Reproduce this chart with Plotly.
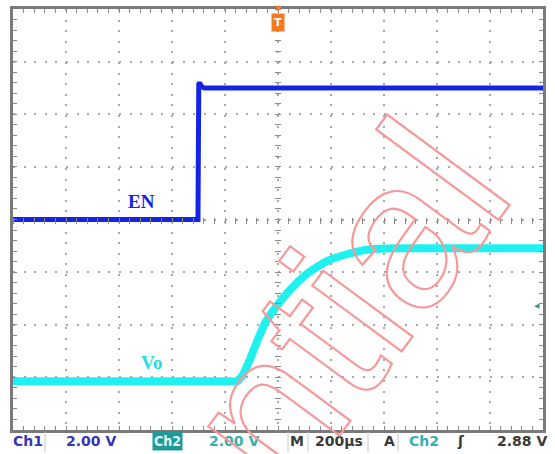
import plotly.graph_objects as go

# ---- scope settings ----
time_range_us = [-1000, 1000]
time_per_div_us = 200
ch1_volts_per_div = 2.0
ch2_volts_per_div = 2.0
ch1_range_v = [-8.0, 8.0]
ch2_range_v = [-1.85, 14.15]
trigger_level_v = 2.88
trigger_time_us = 0

# ---- Ch1 : EN ----
en_t_us = [-1000, -302, -299, -296, -288, -278, 1000]
en_v = [0.0, 0.0, 5.15, 5.2, 5.05, 5.0, 5.0]

# ---- Ch2 : Vo ----
vo_t_us = [-1000, -600, -300, -175, -155, -132, -106, -75, -42, -4, 45, 109, 185, 260, 347, 460, 600, 800, 1000]
vo_v = [0.0, 0.0, 0.0, 0.0, 0.0, 0.26, 0.83, 1.62, 2.34, 2.87, 3.47, 4.08, 4.57, 4.83, 5.02, 5.06, 5.06, 5.06, 5.06]

# ---- status bar ----
status_labels = ["Ch1", f"{ch1_volts_per_div:.2f} V", "Ch2", f"{ch2_volts_per_div:.2f} V",
                 "M", f"{time_per_div_us}µs", "A", "Ch2", "ʃ", f"{trigger_level_v:.2f} V"]
status_colors = ["#3535b5", "#3535b5", "#e6f6f6", "#33b0b0",
                 "#3a3a3a", "#3a3a3a", "#3a3a3a", "#33b0b0", "#3a3a3a", "#3a3a3a"]
status_xpos = [0.0283, 0.147, 0.2906, 0.417, 0.536, 0.615, 0.711, 0.775, 0.845, 0.960]

EN_BLUE = "#1424e6"
VO_CYAN = "#1ff0f0"
GRID = "#a8a8a8"
TICK = "#8a8a8a"
BORDER = "#7a7a7a"

fig = go.Figure()
fig.add_trace(go.Scatter(x=en_t_us, y=en_v, mode="lines",
                         line=dict(color=EN_BLUE, width=5),
                         xaxis="x", yaxis="y", hoverinfo="skip", showlegend=False))
fig.add_trace(go.Scatter(x=vo_t_us, y=vo_v, mode="lines",
                         line=dict(color=VO_CYAN, width=8, shape="spline", smoothing=0.6),
                         xaxis="x", yaxis="y3", hoverinfo="skip", showlegend=False))
# carriers for the centre graticule tick axes
fig.add_trace(go.Scatter(x=[None], y=[None], xaxis="x2", yaxis="y", hoverinfo="skip", showlegend=False))
fig.add_trace(go.Scatter(x=[None], y=[None], xaxis="x", yaxis="y2", hoverinfo="skip", showlegend=False))

plot_w = 530.0
plot_h = 424.0

common = dict(showticklabels=False, zeroline=False, fixedrange=True)

fig.update_layout(
    width=555, height=454,
    margin=dict(l=13, r=12, t=6, b=24),
    paper_bgcolor="white", plot_bgcolor="white",
    showlegend=False,
    xaxis=dict(range=time_range_us, dtick=time_per_div_us, tick0=0,
               showgrid=True, gridcolor=GRID, gridwidth=1.5, griddash="2px,8.6px",
               ticks="inside", ticklen=4, tickcolor=TICK, tickwidth=1,
               showline=True, linecolor=BORDER, linewidth=3, mirror="ticks",
               minor=dict(dtick=time_per_div_us / 5, ticks="inside", ticklen=4,
                          tickcolor=TICK, tickwidth=1, showgrid=False),
               **common),
    yaxis=dict(range=ch1_range_v, dtick=ch1_volts_per_div, tick0=0,
               showgrid=True, gridcolor=GRID, gridwidth=1.5, griddash="2px,8.6px",
               ticks="inside", ticklen=4, tickcolor=TICK, tickwidth=1,
               showline=True, linecolor=BORDER, linewidth=3, mirror="ticks",
               minor=dict(dtick=ch1_volts_per_div / 5, ticks="inside", ticklen=4,
                          tickcolor=TICK, tickwidth=1, showgrid=False),
               **common),
    xaxis2=dict(range=time_range_us, overlaying="x", anchor="free",
                position=0.5 + 3 / plot_h, side="bottom",
                dtick=time_per_div_us / 5, tick0=0, ticks="outside", ticklen=6,
                tickcolor=TICK, tickwidth=1, showgrid=False, showline=False, **common),
    yaxis2=dict(range=ch1_range_v, overlaying="y", anchor="free",
                position=0.5 + 3 / plot_w, side="left",
                dtick=ch1_volts_per_div / 5, tick0=0, ticks="outside", ticklen=6,
                tickcolor=TICK, tickwidth=1, showgrid=False, showline=False, **common),
    yaxis3=dict(range=ch2_range_v, overlaying="y", anchor="x",
                showgrid=False, showline=False, ticks="", **common),
)

ann = []
# trace labels
ann.append(dict(x=-517, y=0.68, xref="x", yref="y", text="<b>EN</b>", showarrow=False,
                font=dict(family="Liberation Serif", size=19, color=EN_BLUE),
                xanchor="center", yanchor="middle"))
ann.append(dict(x=-476, y=0.72, xref="x", yref="y3", text="<b>Vo</b>", showarrow=False,
                font=dict(family="Liberation Serif", size=19, color="#22e0e0"),
                xanchor="center", yanchor="middle"))
# trigger marker at top
ann.append(dict(x=trigger_time_us, y=1.002, xref="x", yref="paper", text="▼", showarrow=False,
                font=dict(family="DejaVu Sans", size=8, color="#f47a20"),
                xanchor="center", yanchor="middle"))
ann.append(dict(x=trigger_time_us, y=0.969, xref="x", yref="paper", text="<b>T</b>", showarrow=False,
                font=dict(family="DejaVu Sans", size=11, color="white"),
                bgcolor="#f47a20", borderpad=1, width=10, height=15,
                xanchor="center", yanchor="middle"))
# trigger level marker
ann.append(dict(x=0.988, y=trigger_level_v, xref="paper", yref="y3", text="◀", showarrow=False,
                font=dict(family="DejaVu Sans", size=7, color="#2a9a9a"),
                xanchor="center", yanchor="middle"))
# status bar
for i, (txt, col, xp) in enumerate(zip(status_labels, status_colors, status_xpos)):
    a = dict(x=xp, y=-0.027, xref="paper", yref="paper", text=f"<b>{txt}</b>", showarrow=False,
             font=dict(family="DejaVu Sans", size=14, color=col),
             xanchor="center", yanchor="middle")
    if i == 2:
        a.update(bgcolor="#1f9a9a", borderpad=1,
                 font=dict(family="DejaVu Sans Condensed, DejaVu Sans", size=14, color=col))
    ann.append(a)
# watermark
ann.append(dict(x=0.2226, y=-0.396, xref="paper", yref="paper", text="Confidential",
                showarrow=False, textangle=-53.6,
                font=dict(family="Liberation Sans", size=210, color="rgba(245,150,150,0.0)"),
                xanchor="center", yanchor="middle"))
fig.update_layout(annotations=ann)

# status bar separators
sep_px = [45, 288, 308, 368, 398]
shapes = []
for px in sep_px:
    xp = (px - 13) / plot_w
    shapes.append(dict(type="line", xref="paper", yref="paper", x0=xp, x1=xp,
                       y0=-0.004, y1=-0.052, line=dict(color="#c8c8c8", width=1)))
fig.update_layout(shapes=shapes)

js = """
document.documentElement.style.margin = '0';
document.body.style.margin = '0';
document.body.style.padding = '0';
document.body.style.overflow = 'hidden';
var gd = document.getElementById('{plot_id}');
gd.querySelectorAll('.annotation-text').forEach(function(t){
  if (t.textContent === 'Confidential') {
    t.style.fill = 'none';
    t.style.stroke = '#f59a9a';
    t.style.strokeWidth = '2.2px';
  }
});
"""
fig.write_html("out.html", post_script=js, config={"displayModeBar": False})
